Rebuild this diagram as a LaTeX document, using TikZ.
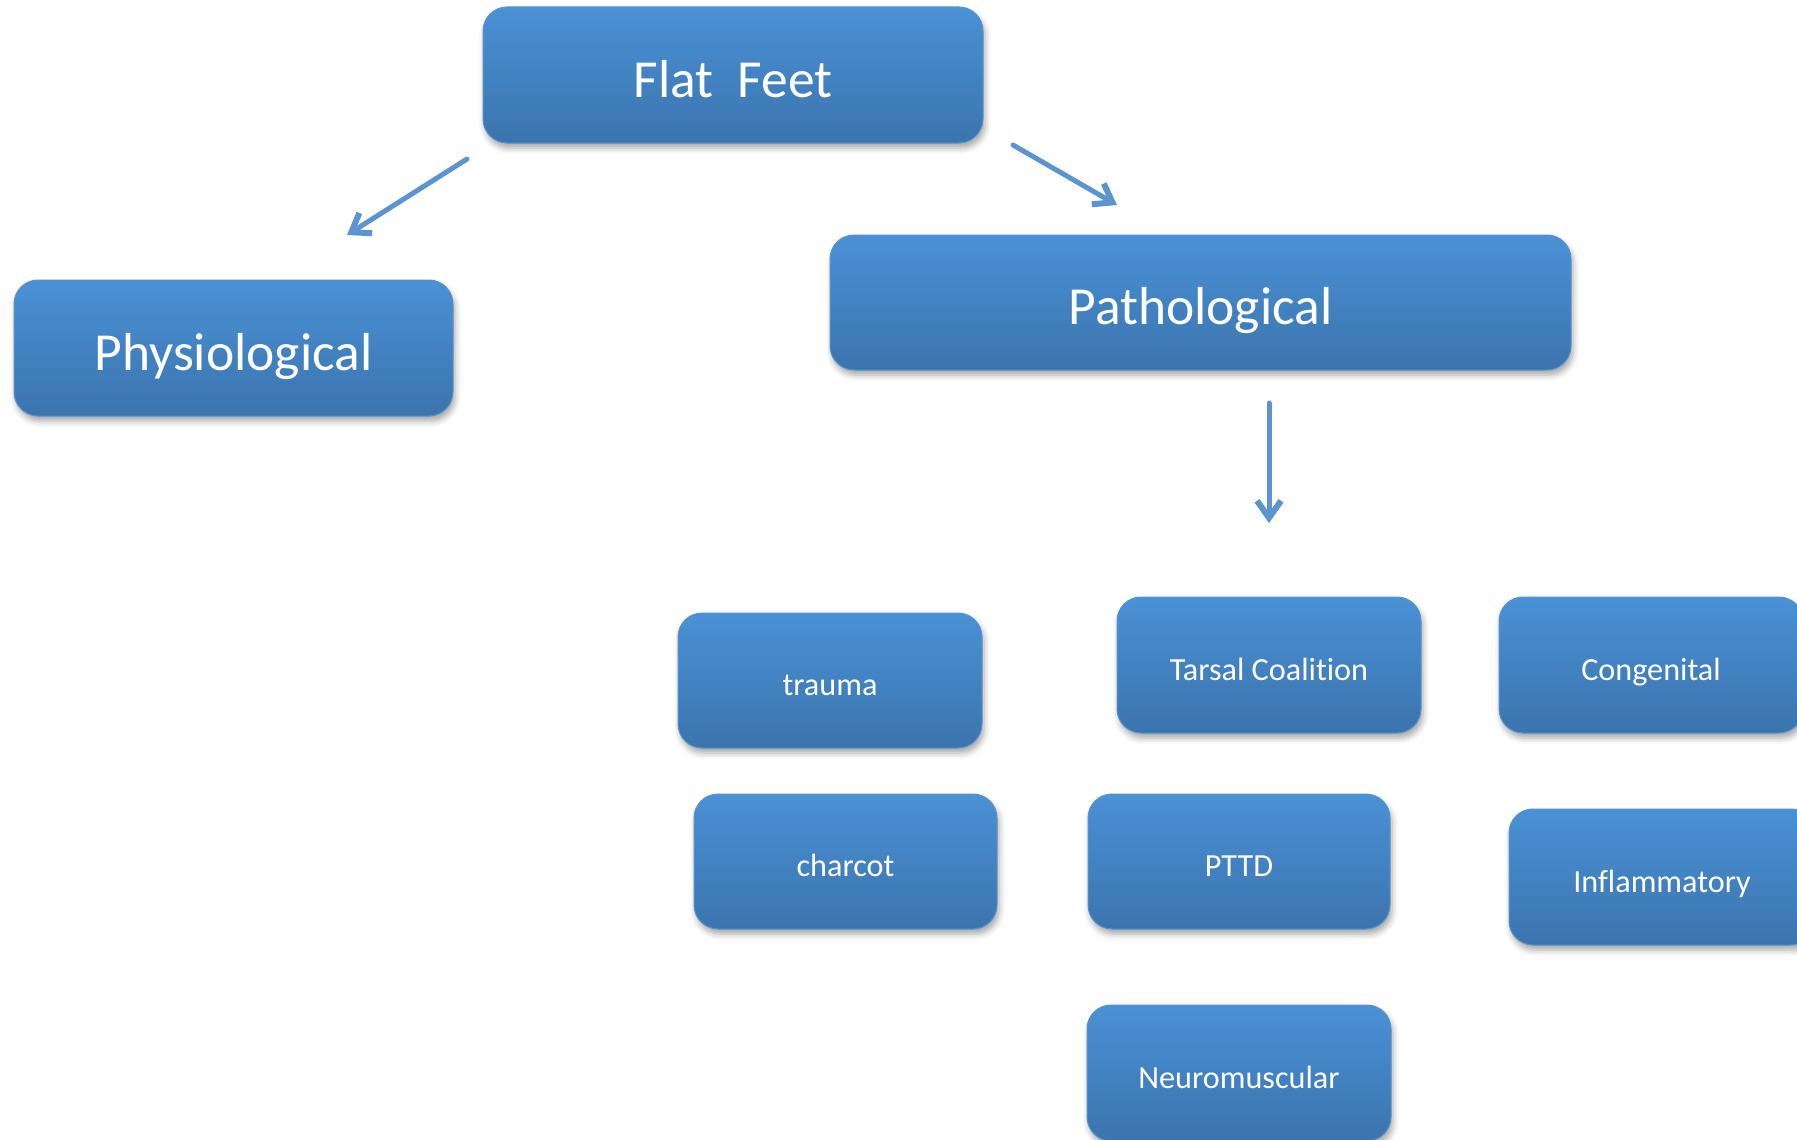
\documentclass[tikz,border=0pt]{standalone}
\usepackage{fontspec}
\setmainfont[Ligatures=NoCommon]{Carlito}
\usetikzlibrary{arrows.meta,shadows.blur}
\definecolor{boxtop}{HTML}{4A91D5}
\definecolor{boxbot}{HTML}{3B74AE}
\definecolor{boxedge}{HTML}{5A93CC}
\definecolor{arrowblue}{HTML}{5B94CF}
\tikzset{
  box/.style={rectangle, rounded corners=24pt, top color=boxtop, bottom color=boxbot,
    draw=boxedge, line width=1pt, text=white, align=center, inner sep=0pt,
    blur shadow={shadow xshift=2pt, shadow yshift=-5pt, shadow blur radius=6pt, shadow opacity=35}},
  bigbox/.style={box, font=\fontsize{53.5}{64}\selectfont, text height=44pt, text depth=0pt},
  smallbox/.style={box, font=\fontsize{32.2}{39}\selectfont, text height=30pt, text depth=0pt},
  link/.style={draw=arrowblue, line width=5pt, line cap=round,
    -{Straight Barb[length=17pt, width=24pt, line width=6pt]}},
}
\begin{document}
\begin{tikzpicture}[x=1pt, y=-1pt]
\useasboundingbox (0,0) rectangle (1797,1140);
% upper level
\node[bigbox, minimum width=500pt, minimum height=136pt] (flat) at (733,75) {Flat\ \ Feet};
\node[bigbox, minimum width=439pt, minimum height=136pt] (phys) at (233.5,348) {Physiological};
\node[bigbox, minimum width=741pt, minimum height=135pt] (path) at (1200.5,302.5) {Pathological};
% causes
\node[smallbox, minimum width=304pt, minimum height=135pt] (trauma) at (830,680.5) {trauma};
\node[smallbox, minimum width=304pt, minimum height=136pt] (tarsal) at (1269,665) {Tarsal Coalition};
\node[smallbox, minimum width=304pt, minimum height=136pt] (cong) at (1651,665) {Congenital};
\node[smallbox, minimum width=303pt, minimum height=135pt] (charcot) at (845.5,861.5) {charcot};
\node[smallbox, minimum width=302pt, minimum height=135pt] (pttd) at (1239,861.5) {PTTD};
\node[smallbox, minimum width=306pt, minimum height=136pt] (infl) at (1662,877) {Inflammatory};
\node[smallbox, minimum width=304pt, minimum height=136pt] (neuro) at (1239,1073) {Neuromuscular};
% arrow end points
\coordinate (aL1) at (467,159);
\coordinate (aL2) at (347,235);
\coordinate (aR1) at (1013,145);
\coordinate (aR2) at (1117,205);
\coordinate (aD1) at (1269,403);
\coordinate (aD2) at (1269,523);
\draw[link] (aL1) -- (aL2);
\draw[link] (aR1) -- (aR2);
\draw[link] (aD1) -- (aD2);
\end{tikzpicture}
\end{document}
